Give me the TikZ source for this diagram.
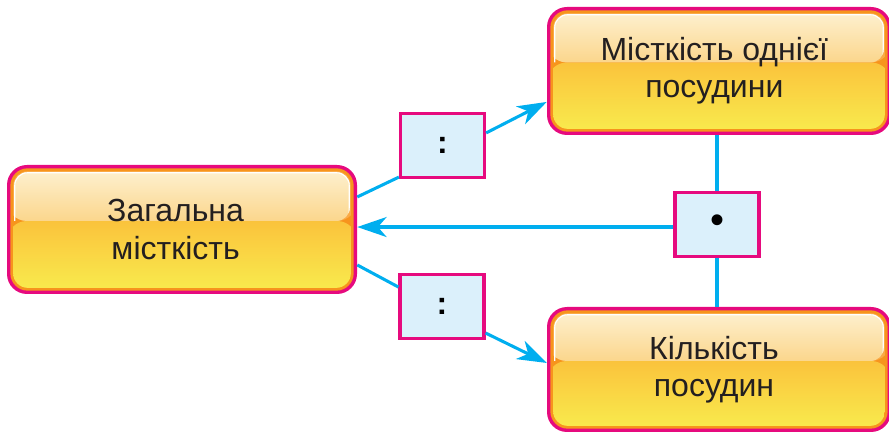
\documentclass[tikz,border=0pt]{standalone}
\usepackage{fontspec}
\setmainfont{Liberation Sans}
\usetikzlibrary{arrows.meta,calc}
\definecolor{pinkc}{RGB}{230,10,126}
\definecolor{orangec}{RGB}{247,148,29}
\definecolor{orangel}{RGB}{250,170,70}
\definecolor{creamA}{RGB}{254,243,214}
\definecolor{creamB}{RGB}{251,214,140}
\definecolor{yelA}{RGB}{250,195,60}
\definecolor{yelB}{RGB}{249,237,78}
\definecolor{cyanc}{RGB}{0,174,239}
\definecolor{lblue}{RGB}{219,240,251}
\definecolor{textc}{RGB}{35,31,32}
\begin{document}
\begin{tikzpicture}[x=0.75pt,y=-0.75pt,
  bigbox/.style={fill=pinkc, rounded corners=15pt, inner sep=0pt, align=center,
    text=textc, font=\fontsize{24}{28}\selectfont,
    path picture={
      \fill[orangec, rounded corners=13pt]
        ([shift={(2.5pt,2.5pt)}]path picture bounding box.south west) rectangle
        ([shift={(-2.5pt,-2.5pt)}]path picture bounding box.north east);
      \begin{scope}
        \clip[rounded corners=11pt]
          ([shift={(4.6pt,4.6pt)}]path picture bounding box.south west) rectangle
          ([shift={(-4.6pt,-4.6pt)}]path picture bounding box.north east);
        \shade[top color=yelA, bottom color=yelB]
          (path picture bounding box.south west) rectangle
          ([yshift=6.4pt]path picture bounding box.east);
        \fill[orangel]
          ([yshift=6.4pt]path picture bounding box.west) rectangle
          (path picture bounding box.north east);
      \end{scope}
      \begin{scope}
        \clip[rounded corners=10pt]
          ([yshift=6.4pt,xshift=5.4pt]path picture bounding box.west) --
          ([shift={(5.4pt,-5.4pt)}]path picture bounding box.north west) --
          ([shift={(-5.4pt,-5.4pt)}]path picture bounding box.north east) --
          ([yshift=6.4pt,xshift=-5.4pt]path picture bounding box.east) [sharp corners] -- cycle;
        \shade[top color=creamA, bottom color=creamB]
          ([yshift=6.4pt]path picture bounding box.west) rectangle
          (path picture bounding box.north east);
        \draw[white, line width=1.6pt, rounded corners=10pt]
          ([yshift=6.4pt,xshift=5.4pt]path picture bounding box.west) --
          ([shift={(5.4pt,-5.4pt)}]path picture bounding box.north west) --
          ([shift={(-5.4pt,-5.4pt)}]path picture bounding box.north east) --
          ([yshift=6.4pt,xshift=-5.4pt]path picture bounding box.east);
      \end{scope}
    }},
  opbox/.style={draw=pinkc, fill=lblue, line width=2.4pt, inner sep=0pt,
    minimum width=63pt, minimum height=48pt, text=black},
  conn/.style={draw=cyanc, line width=2.3pt},
  arr/.style={-{Stealth[length=22pt,width=15pt,inset=6.5pt]}}
]
\useasboundingbox (0,0) rectangle (889,434);

\node[bigbox, minimum width=262.5pt, minimum height=96.75pt] (L) at (182,229.5)
  {\hspace*{-9.6pt}Загальна\\\hspace*{-9.6pt}місткість};
\node[bigbox, minimum width=258pt, minimum height=96pt] (T) at (719,71)
  {\hspace*{-7pt}Місткість однієї\\\hspace*{-7pt}посудини};
\node[bigbox, minimum width=258pt, minimum height=93.75pt] (B) at (719,369.5)
  {\hspace*{-7.5pt}Кількість\\\hspace*{-7.5pt}посудин};

\node[opbox, font=\bfseries\fontsize{24}{28}\selectfont] (c1) at (442.5,145.5) {:};
\node[opbox, font=\bfseries\fontsize{24}{28}\selectfont] (c2) at (442,306.5) {:};
\node[opbox, font=\fontsize{30}{30}\selectfont] (d) at (717,224.5) {•};

\draw[conn] ([yshift=24.4pt]L.east) -- ([shift={(0pt,1.5pt)}]c1.south west);
\draw[conn, arr] ([yshift=9.4pt]c1.east) -- ([yshift=-23.2pt]T.west);
\draw[conn] ([yshift=-26.6pt]L.east) -- ([yshift=14.6pt]c2.west);
\draw[conn, arr] ([yshift=-19.9pt]c2.east) -- ([yshift=4.9pt]B.west);
\draw[conn, arr] ([yshift=-1.9pt]d.west) -- ([yshift=-1.9pt]d.west -| L.east);
\draw[conn] (d.north) -- (d.north |- T.south);
\draw[conn] (d.south) -- (d.south |- B.north);
\end{tikzpicture}
\end{document}
